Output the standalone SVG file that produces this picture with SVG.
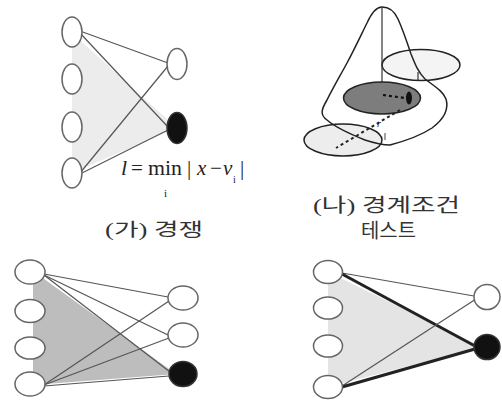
<svg xmlns="http://www.w3.org/2000/svg" width="502" height="401" viewBox="0 0 502 401">
<style>
.node{fill:#fff;stroke:#666;stroke-width:1.5}
.win{fill:#111;stroke:#333;stroke-width:1.5}
.ln{stroke:#555;stroke-width:1.2;fill:none}
.thick{stroke:#222;stroke-width:3;fill:none}
.cap{font-family:"Liberation Serif","Noto Sans CJK KR",serif;fill:#333}
.f{font-family:"Liberation Serif",serif;fill:#222}
.curve{fill:none;stroke:#222;stroke-width:1.5}
</style>
<rect width="502" height="401" fill="#fff"/>

<!-- Panel 1: competition -->
<g id="panel1">
  <polygon points="72,33 72,173 177,128" fill="#ececec"/>
  <g id="connectors1">
    <line class="ln" x1="80" y1="31" x2="168" y2="63"/>
    <line class="ln" x1="80" y1="33" x2="168" y2="127"/>
    <line class="ln" x1="80" y1="173" x2="168" y2="66"/>
    <line class="ln" x1="80" y1="174" x2="168" y2="130"/>
  </g>
  <g id="p1-in1"><ellipse class="node" cx="72" cy="32" rx="10" ry="15"/></g>
  <g id="p1-in2"><ellipse class="node" cx="72" cy="79" rx="10" ry="15"/></g>
  <g id="p1-in3"><ellipse class="node" cx="72" cy="127" rx="10" ry="15"/></g>
  <g id="p1-in4"><ellipse class="node" cx="72" cy="173" rx="10" ry="15"/></g>
  <g id="p1-out1"><ellipse class="node" cx="177" cy="64" rx="10" ry="15.5"/></g>
  <g id="p1-out2"><ellipse class="win" cx="177" cy="128" rx="10" ry="15.5"/></g>
  <g id="formula">
    <text class="f" x="121" y="175" font-size="22" font-style="italic">l</text>
    <text class="f" x="131" y="175" font-size="21">=</text>
    <text class="f" x="148" y="175" font-size="22" textLength="34" lengthAdjust="spacingAndGlyphs">min</text>
    <text class="f" x="164" y="197" font-size="11">i</text>
    <text class="f" x="187" y="175" font-size="21" fill="#444">|</text>
    <text class="f" x="197" y="175" font-size="21" font-style="italic">x</text>
    <text class="f" x="210" y="175" font-size="21">−</text>
    <text class="f" x="223" y="175" font-size="21" font-style="italic">v</text>
    <text class="f" x="233" y="183" font-size="10">i</text>
    <text class="f" x="240" y="175" font-size="21" fill="#444">|</text>
  </g>
  <text class="cap" x="105" y="236" font-size="18" textLength="98" lengthAdjust="spacingAndGlyphs">(가) 경쟁</text>
</g>

<!-- Panel 2: boundary condition test -->
<g id="panel2">
  <ellipse cx="421" cy="65" rx="39" ry="15.5" fill="#f4f4f4" stroke="#222" stroke-width="1.5"/>
  <ellipse cx="343" cy="140" rx="39" ry="16" fill="#ededed" stroke="#222" stroke-width="1.5"/>
  <path class="curve" d="M382,7 C377,7 372,12 367,23 C362,33 355,48 347,63 C340,76 334,86 327,100 C321,110 320,115 327,120 C335,127 350,134 365,140 C374,143 382,145 390,145 C405,141 420,136 432,128 C444,119 449,109 446,99 C443,91 434,86 425,79 C418,72 415,64 411,54 C407,42 403,30 398,19 C394,10 388,7 382,7 Z"/>
  <line x1="382" y1="8" x2="382" y2="95" stroke="#333" stroke-width="1.2"/>
  <line x1="418" y1="72" x2="418" y2="80" stroke="#333" stroke-width="1.2"/>
  <ellipse cx="382" cy="98" rx="38.5" ry="16" fill="#7d7d7d" stroke="#222" stroke-width="1.5"/>
  <line x1="383" y1="95" x2="405" y2="98" stroke="#111" stroke-width="2.2" stroke-dasharray="3,3"/>
  <ellipse cx="409" cy="98" rx="3" ry="6.5" fill="#111"/>
  <line x1="400" y1="110" x2="336" y2="148" stroke="#222" stroke-width="2" stroke-dasharray="3,3"/>
  <text class="f" x="377" y="127" font-size="10" font-style="italic">r</text>
  <line x1="385" y1="133" x2="385" y2="140" stroke="#444" stroke-width="1"/>
  <text class="cap" x="313" y="212" font-size="19" textLength="147" lengthAdjust="spacingAndGlyphs">(나) 경계조건</text>
  <text class="cap" x="361" y="238" font-size="20" textLength="55" lengthAdjust="spacingAndGlyphs">테스트</text>
</g>

<!-- Panel 3 -->
<g id="panel3">
  <polygon points="33,271 33,385 176,374" fill="#bdbdbd"/>
  <g id="connectors3">
    <line class="ln" x1="44" y1="274" x2="168" y2="297"/>
    <line class="ln" x1="44" y1="275" x2="168" y2="335"/>
    <line class="ln" x1="44" y1="275" x2="170" y2="372"/>
    <line class="ln" x1="44" y1="385" x2="169" y2="301"/>
    <line class="ln" x1="44" y1="385" x2="169" y2="338"/>
    <line class="ln" x1="44" y1="386" x2="169" y2="376"/>
  </g>
  <g id="p3-in1"><ellipse class="node" cx="30" cy="272" rx="15" ry="12"/></g>
  <g id="p3-in2"><ellipse class="node" cx="30" cy="311" rx="15" ry="11.5"/></g>
  <g id="p3-in3"><ellipse class="node" cx="30" cy="348" rx="15" ry="11"/></g>
  <g id="p3-in4"><ellipse class="node" cx="30" cy="384" rx="15" ry="12"/></g>
  <g id="p3-out1"><ellipse class="node" cx="183" cy="298" rx="15" ry="12"/></g>
  <g id="p3-out2"><ellipse class="node" cx="183" cy="335" rx="15" ry="12"/></g>
  <g id="p3-out3"><ellipse class="win" cx="183" cy="374" rx="14" ry="12.5"/></g>
</g>

<!-- Panel 4 -->
<g id="panel4">
  <polygon points="328,272 328,387 482,347" fill="#e4e4e4"/>
  <g id="connectors4">
    <line class="ln" x1="342" y1="273" x2="474" y2="296"/>
    <line class="thick" x1="342" y1="274" x2="475" y2="346"/>
    <line class="ln" x1="342" y1="386" x2="476" y2="299"/>
    <line class="thick" x1="342" y1="387" x2="475" y2="349"/>
  </g>
  <g id="p4-in1"><ellipse class="node" cx="328" cy="272" rx="14.5" ry="11.5"/></g>
  <g id="p4-in2"><ellipse class="node" cx="328" cy="308" rx="14.5" ry="11"/></g>
  <g id="p4-in3"><ellipse class="node" cx="328" cy="346" rx="14.5" ry="11"/></g>
  <g id="p4-in4"><ellipse class="node" cx="328" cy="387" rx="14.5" ry="11.5"/></g>
  <g id="p4-out1"><ellipse class="node" cx="487" cy="297" rx="13" ry="12.5"/></g>
  <g id="p4-out2"><ellipse class="win" cx="487" cy="347" rx="13" ry="12.5"/></g>
</g>
</svg>
